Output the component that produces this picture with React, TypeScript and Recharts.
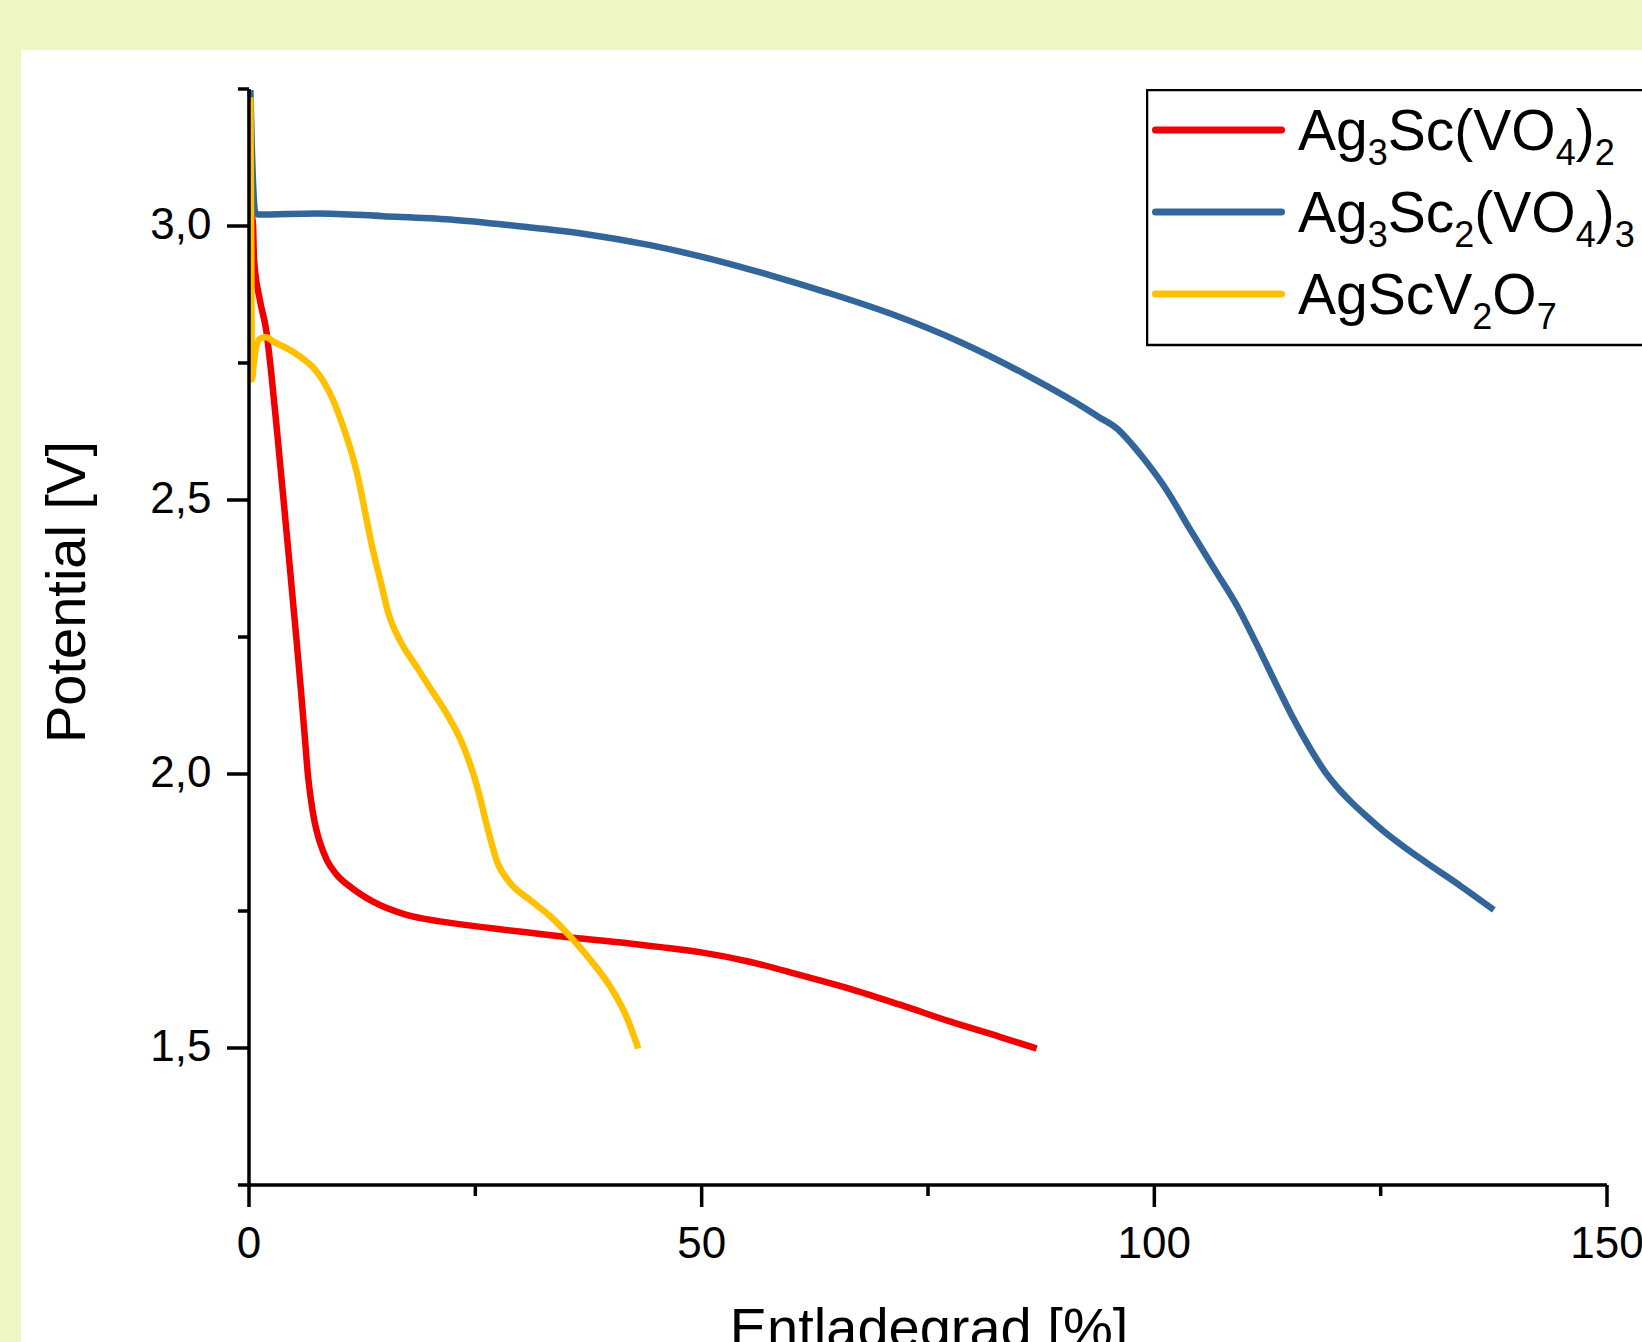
import React from 'react';
import { LineChart, Line, XAxis, YAxis } from 'recharts';

// Entladegrad [%] und Potential [V]
const redX = [0.3, 0.45, 0.55, 1.2, 1.9, 2.5, 3.1, 3.7, 4.3, 4.8, 5.3, 5.75, 6.15, 6.5, 6.85, 7.25, 7.8, 8.6, 9.7, 11.2, 13.7, 17.4, 21.1, 26.6, 32.2, 35.8, 41.4, 45.0, 49.8, 55.4, 60.9, 66.4, 71.9, 77.5, 83.0, 87.0];
const redY = [3.02, 3.0, 2.94, 2.865, 2.81, 2.725, 2.625, 2.52, 2.415, 2.325, 2.235, 2.15, 2.07, 2.0, 1.952, 1.912, 1.877, 1.843, 1.816, 1.794, 1.767, 1.743, 1.731, 1.719, 1.708, 1.701, 1.692, 1.685, 1.675, 1.657, 1.633, 1.608, 1.579, 1.548, 1.52, 1.499];

const blueX = [0.15, 0.3, 0.5, 0.7, 1.0, 7.5, 14.8, 22.2, 29.6, 36.9, 44.3, 51.7, 57.6, 63.8, 71.2, 78.6, 85.9, 91.5, 93.8, 95.9, 97.4, 98.8, 101.4, 104.0, 106.9, 109.1, 111.3, 113.6, 115.3, 117.2, 118.9, 120.3, 121.8, 123.5, 125.3, 127.5, 129.8, 133.8, 137.5];
const blueY = [3.248, 3.15, 3.06, 3.025, 3.021, 3.023, 3.018, 3.012, 3.0, 2.986, 2.965, 2.937, 2.91, 2.879, 2.838, 2.788, 2.728, 2.676, 2.652, 2.63, 2.604, 2.576, 2.517, 2.445, 2.367, 2.308, 2.237, 2.159, 2.103, 2.047, 2.003, 1.974, 1.948, 1.922, 1.896, 1.868, 1.841, 1.796, 1.752];

const yellowX = [0.15, 0.25, 0.32, 0.5, 0.8, 1.3, 1.9, 2.7, 4.5, 6.4, 7.3, 8.2, 9.3, 10.4, 11.35, 12.1, 12.8, 13.6, 14.5, 15.4, 16.7, 18.5, 20.0, 21.8, 23.7, 25.2, 26.4, 27.4, 28.8, 31.05, 33.3, 35.5, 37.7, 39.9, 41.7, 43.0];
const yellowY = [3.235, 2.95, 2.72, 2.745, 2.78, 2.795, 2.797, 2.789, 2.774, 2.752, 2.738, 2.717, 2.682, 2.634, 2.585, 2.537, 2.48, 2.415, 2.354, 2.293, 2.243, 2.196, 2.157, 2.111, 2.05, 1.977, 1.898, 1.84, 1.802, 1.77, 1.74, 1.703, 1.661, 1.612, 1.557, 1.499];

const xTicks = [0, 25, 50, 75, 100, 125, 150];
const yTicks = [1.25, 1.5, 1.75, 2, 2.25, 2.5, 2.75, 3, 3.25];

const seriesNames = ['Ag_{3}Sc(VO_{4})_{2}', 'Ag_{3}Sc_{2}(VO_{4})_{3}', 'AgScV_{2}O_{7}'];
const seriesColors = ['#F00000', '#32669A', '#FFC000'];

const FONT = '"Liberation Sans", Arial, sans-serif';

const zip = (xs: number[], ys: number[]) => xs.map((x, i) => ({ x, y: ys[i] }));

const series = [
  { name: seriesNames[0], color: seriesColors[0], data: zip(redX, redY) },
  { name: seriesNames[1], color: seriesColors[1], data: zip(blueX, blueY) },
  { name: seriesNames[2], color: seriesColors[2], data: zip(yellowX, yellowY) },
];

function XTick(props: any) {
  const { x, y, payload } = props;
  const major = payload.value % 50 === 0;
  return (
    <g>
      <line x1={x} y1={y} x2={x} y2={y + (major ? 22 : 11)} stroke="#000" strokeWidth={3.5} />
      {major && (
        <text x={x} y={y + 73} textAnchor="middle" fontSize={44} fontFamily={FONT} fill="#000">
          {payload.value}
        </text>
      )}
    </g>
  );
}

function YTick(props: any) {
  const { x, y, payload } = props;
  const v = payload.value;
  const major = Math.abs(v * 2 - Math.round(v * 2)) < 1e-6;
  return (
    <g>
      <line x1={x - (major ? 22 : 11)} y1={y} x2={x} y2={y} stroke="#000" strokeWidth={3.5} />
      {major && (
        <text x={x - 37.5} y={y + 13} textAnchor="end" fontSize={44} fontFamily={FONT} fill="#000">
          {v.toFixed(1).replace('.', ',')}
        </text>
      )}
    </g>
  );
}

// "Ag_{3}Sc" -> Textstücke mit Tiefstellung
function renderFormula(label: string) {
  const parts = label.split(/(_\{[^}]*\})/).filter(Boolean);
  let shifted = false;
  return parts.map((p, i) => {
    const sub = p.startsWith('_{');
    const text = sub ? p.slice(2, -1) : p;
    let dy = 0;
    if (sub && !shifted) { dy = 15; shifted = true; }
    else if (!sub && shifted) { dy = -15; shifted = false; }
    return (
      <tspan key={i} fontSize={sub ? 36 : 57} dy={dy}>
        {text}
      </tspan>
    );
  });
}

function LegendBox() {
  return (
    <svg width={500} height={260} style={{ position: 'absolute', left: 1146, top: 89 }}>
      <rect x={1} y={1} width={600} height={255} fill="#fff" stroke="#000" strokeWidth={2.5} />
      {series.map((s, i) => (
        <g key={s.name}>
          <line x1={9.5} x2={135.5} y1={41 + 82 * i} y2={41 + 82 * i} stroke={s.color} strokeWidth={7} strokeLinecap="round" />
          <text x={152} y={61 + 82 * i} fontFamily={FONT} fill="#000">
            {renderFormula(s.name)}
          </text>
        </g>
      ))}
    </svg>
  );
}

export default function App() {
  return (
    <div style={{ position: 'absolute', left: 0, top: 0, width: 1642, height: 1342, background: '#EEF7C3', overflow: 'hidden' }}>
      <div style={{ position: 'absolute', left: 21, top: 50, right: 0, bottom: 0, background: '#fff' }} />
      <div style={{ position: 'absolute', left: 0, top: 0 }}>
        <LineChart width={1642} height={1342} margin={{ top: 89, right: 35, bottom: 57, left: 129 }}>
          <XAxis
            type="number"
            dataKey="x"
            domain={[0, 150]}
            ticks={xTicks}
            interval={0}
            height={100}
            tickSize={0}
            tickMargin={0}
            tickLine={false}
            axisLine={{ stroke: '#000', strokeWidth: 3.5 }}
            tick={XTick}
            label={{
              value: 'Entladegrad [%]',
              content: () => (
                <text x={929} y={1347} textAnchor="middle" fontSize={56} fontFamily={FONT} fill="#000">
                  Entladegrad [%]
                </text>
              ),
            }}
          />
          <YAxis
            type="number"
            domain={[1.25, 3.25]}
            ticks={yTicks}
            interval={0}
            width={120}
            tickSize={0}
            tickMargin={0}
            tickLine={false}
            axisLine={{ stroke: '#000', strokeWidth: 3.5 }}
            tick={YTick}
            label={{
              value: 'Potential [V]',
              content: () => (
                <text transform="translate(85,592) rotate(-90)" textAnchor="middle" fontSize={56} fontFamily={FONT} fill="#000">
                  Potential [V]
                </text>
              ),
            }}
          />
          {series.map((s) => (
            <Line
              key={s.name}
              data={s.data}
              dataKey="y"
              name={s.name}
              type="monotone"
              stroke={s.color}
              strokeWidth={6.5}
              dot={false}
              activeDot={false}
              isAnimationActive={false}
            />
          ))}
        </LineChart>
      </div>
      <LegendBox />
    </div>
  );
}
